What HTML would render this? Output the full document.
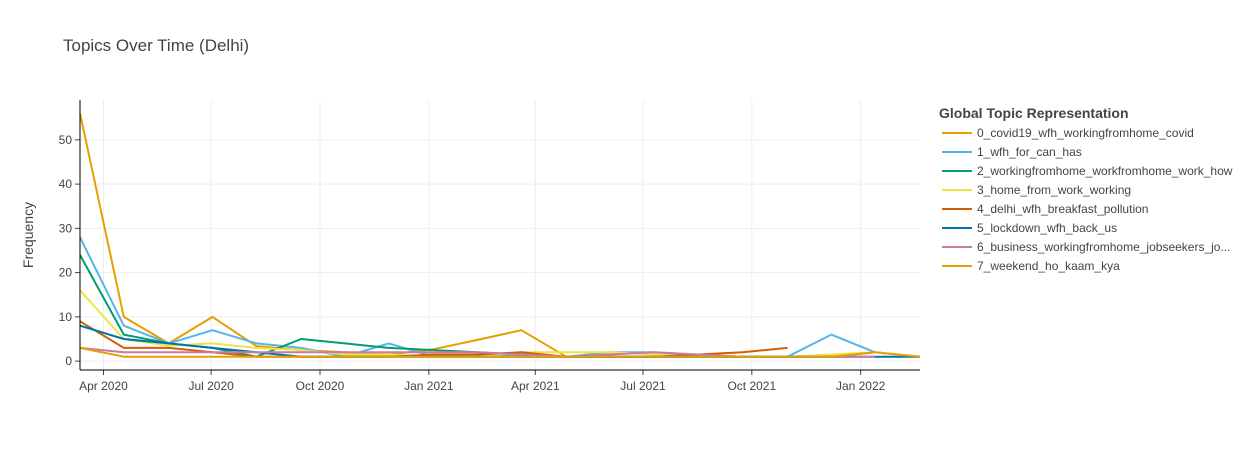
<!DOCTYPE html>
<html><head><meta charset="utf-8"><style>
body{margin:0;background:#fff;font-family:"Liberation Sans",Arial,sans-serif;}
</style></head><body>
<svg id="chart" width="1250" height="450" xmlns="http://www.w3.org/2000/svg" font-family="Liberation Sans, Arial, sans-serif">
<text x="63" y="51" font-size="17" fill="#444">Topics Over Time (Delhi)</text>
<text transform="translate(33,235) rotate(-90)" text-anchor="middle" font-size="14" fill="#444">Frequency</text>
<g id="grid"></g><g id="series"></g><g id="axes"></g><g id="legend"></g>
</svg>
<script>
const dates=["2020-03-13","2020-04-19","2020-05-27","2020-07-03","2020-08-09","2020-09-16","2020-10-23","2020-11-29","2021-01-06","2021-02-12","2021-03-21","2021-04-28","2021-06-04","2021-07-12","2021-08-18","2021-09-24","2021-11-01","2021-12-08","2022-01-14","2022-02-21"];
const topicNames=["0_covid19_wfh_workingfromhome_covid","1_wfh_for_can_has","2_workingfromhome_workfromhome_work_how","3_home_from_work_working","4_delhi_wfh_breakfast_pollution","5_lockdown_wfh_back_us","6_business_workingfromhome_jobseekers_jo...","7_weekend_ho_kaam_kya"];
const s0=[56,10,4,10,3.4,2.5,2,1.5,2.7,4.8,7,1,1,1,1,1,1,1,2,1];
const s1=[28,8,4,7,4,3,1,4,1,1.5,1,1,2,2,1,1,1,6,2,null];
const s2=[24,6,4,3,1,5,4,3,2.5,2,1.5,1,1,1,1,1,1,1,2,null];
const s3=[16,5,3.5,4,3,2.5,1.5,1.5,1,1,2,2,2,1.5,1,1,1,1.5,2,1];
const s4=[9,3,3,2,1,1,1,1,1.5,1.5,2,1,1,1,1.5,2,3,null,null,null];
const s5=[8,5,4,3,2,1,1,1,1,1,1,1,1,1,1,1,1,1,1,1];
const s6=[3,2,2,2,2,2,2,2,2,2,1.5,1,1.5,2,1.5,1,1,1,1,null];
const s7=[3,1,1,1,1,1,1,1,1,1,1,1,1,1,1,1,1,1,2,1];
const seriesValues=[s0,s1,s2,s3,s4,s5,s6,s7];
const colors=["#E69F00","#56B4E9","#009E73","#F0E442","#D55E00","#0072B2","#CC79A7","#E69F00"];
const yTicks=[0,10,20,30,40,50];
const xTickLabels=["Apr 2020","Jul 2020","Oct 2020","Jan 2021","Apr 2021","Jul 2021","Oct 2021","Jan 2022"];
const xTickDates=["2020-04-01","2020-07-01","2020-10-01","2021-01-01","2021-04-01","2021-07-01","2021-10-01","2022-01-01"];
const NS="http://www.w3.org/2000/svg";
const L=80,R=920,T=100,B=370;
const t0=Date.parse(dates[0]),t1=Date.parse(dates[dates.length-1]);
const xs=d=>L+(Date.parse(d)-t0)/(t1-t0)*(R-L);
const yMin=-2,yMax=59;
const ys=v=>B-(v-yMin)/(yMax-yMin)*(B-T);
function mk(tag,attrs,parent){const e=document.createElementNS(NS,tag);for(const k in attrs)e.setAttribute(k,attrs[k]);parent.appendChild(e);return e;}
const grid=document.getElementById('grid'),axes=document.getElementById('axes'),ser=document.getElementById('series'),leg=document.getElementById('legend');
yTicks.forEach(v=>{const y=ys(v);
 const g=mk('line',{x1:L,x2:R,y1:y,y2:y,stroke:'#eee','stroke-width':1},grid);
 
 
 const tk=mk('line',{x1:L-5,x2:L,y1:y,y2:y,stroke:'#444'},axes);
 
 
 const t=mk('text',{x:L-8,y:y+4,'text-anchor':'end','font-size':12,fill:'#444'},axes);t.textContent=v;
 
 
});
xTickDates.forEach((d,i)=>{const x=xs(d)+1;
 const g=mk('line',{x1:x,x2:x,y1:T,y2:B,stroke:'#eee'},grid);
 
 
 const tk=mk('line',{x1:x,x2:x,y1:B,y2:B+5,stroke:'#444'},axes);
 
 
 const t=mk('text',{x:x,y:B+20,'text-anchor':'middle','font-size':12,fill:'#444'},axes);t.textContent=xTickLabels[i];
 
 
});
const ax1=mk('line',{x1:L,x2:L,y1:T,y2:B,stroke:'#000'},axes);


const ax2=mk('line',{x1:L,x2:R,y1:B,y2:B,stroke:'#000'},axes);


seriesValues.forEach((vals,si)=>{
 let d='',pen=false;
 vals.forEach((v,i)=>{if(v===null){pen=false;return;}d+=(pen?'L':'M')+xs(dates[i]).toFixed(1)+','+ys(v).toFixed(1);pen=true;});
 const p=mk('path',{d:d,fill:'none',stroke:colors[si],'stroke-width':2,'stroke-linejoin':'round'},ser);
 
 
});
const lt=mk('text',{x:939,y:118,'font-size':14,'font-weight':'bold',fill:'#444'},leg);lt.textContent='Global Topic Representation';


topicNames.forEach((n,i)=>{const y=133+19*i;
 const g=mk('g',{},leg);
 
 
 mk('line',{x1:942,x2:972,y1:y,y2:y,stroke:colors[i],'stroke-width':2},g);
 const t=mk('text',{x:977,y:y+4,'font-size':12,fill:'#444'},g);t.textContent=n;
});
</script>
</body></html>
